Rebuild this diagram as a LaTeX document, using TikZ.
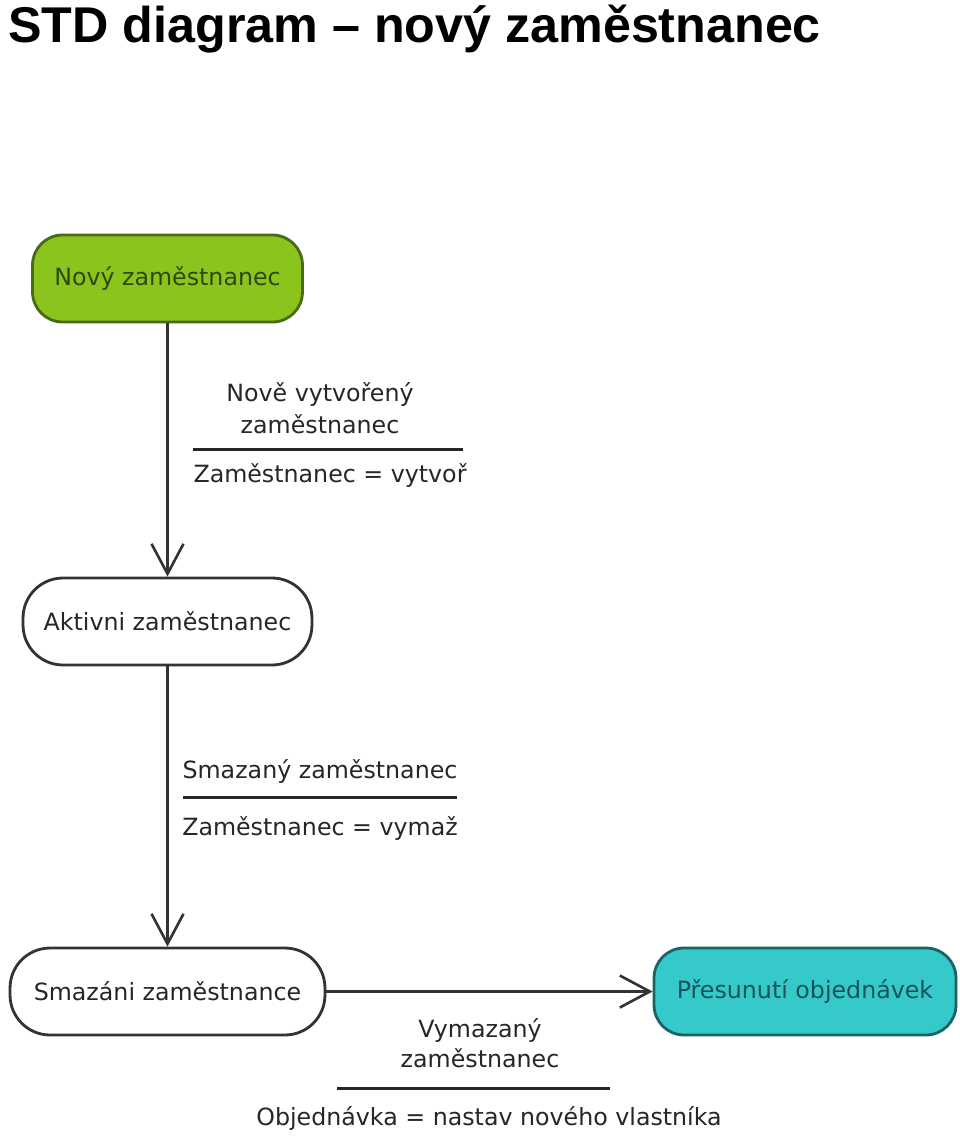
\documentclass[tikz,border=0pt]{standalone}
\usepackage{fontspec}
\setmainfont{DejaVu Sans}
\newfontfamily\titlefont{Liberation Sans}
\usetikzlibrary{arrows.meta}
\definecolor{startgreen}{HTML}{8CC41E}
\definecolor{startedge}{HTML}{4A6A14}
\definecolor{starttext}{HTML}{2C4A0E}
\definecolor{movecyan}{HTML}{36C9C9}
\definecolor{moveedge}{HTML}{1A6468}
\definecolor{movetext}{HTML}{16545C}
\tikzset{state/.style={draw=black!80,line width=1.6pt,rounded corners=0.8cm,
    minimum height=1.74cm,inner sep=0pt,text=black!85,font=\fontsize{13.5}{16}\selectfont},
    startstate/.style={state,fill=startgreen,draw=startedge,text=starttext,rounded corners=0.6cm},
    movestate/.style={state,fill=movecyan,draw=moveedge,text=movetext,rounded corners=0.6cm},
    trans/.style={draw=black!80,line width=1.5pt,
        -{Straight Barb[length=0.6cm,width=0.64cm,line width=1.5pt]}},
    guard/.style={anchor=base,inner sep=0pt,text=black!85,font=\fontsize{13.5}{16}\selectfont},
    guardrule/.style={draw=black!85,line width=1.7pt}}

\begin{document}
\begin{tikzpicture}[x=0.02cm,y=-0.02cm]
\useasboundingbox (0,0) rectangle (960,1136);
\node[anchor=base west,inner sep=0pt,font=\titlefont\bfseries\fontsize{28.6}{34}\selectfont]
    (title) at (8,42) {STD diagram – nový zaměstnanec};
% stavy
\node[startstate,minimum width=5.4cm] (novy) at (167.5,278.5) {Nový zaměstnanec};
\node[state,minimum width=5.78cm] (aktivni) at (167.5,621.5) {Aktivni zaměstnanec};
\node[state,minimum width=6.3cm] (smazani) at (167.5,991.5) {Smazáni zaměstnance};
\node[movestate,minimum width=6.04cm] (presun) at (805,991.5) {Přesunutí objednávek};
% prechody
\draw[trans] (novy) -- (aktivni);
\draw[trans] (aktivni) -- (smazani);
\draw[trans] (smazani) -- (presun);
% udalosti / akce
\node[guard] (vytvorenyA) at (320,401) {Nově vytvořený};
\node[guard] (vytvorenyB) at (320,433) {zaměstnanec};
\draw[guardrule] (193,449) -- (463,449);
\node[guard] (vytvor) at (330,482) {Zaměstnanec = vytvoř};
\node[guard] (smazany) at (320,778) {Smazaný zaměstnanec};
\draw[guardrule] (183,797) -- (457,797);
\node[guard] (vymaz) at (320,835) {Zaměstnanec = vymaž};
\node[guard] (vymazanyA) at (480,1037) {Vymazaný};
\node[guard] (vymazanyB) at (480,1067) {zaměstnanec};
\draw[guardrule] (337,1088) -- (610,1088);
\node[guard] (nastav) at (489,1125) {Objednávka = nastav nového vlastníka};
\end{tikzpicture}
\end{document}
